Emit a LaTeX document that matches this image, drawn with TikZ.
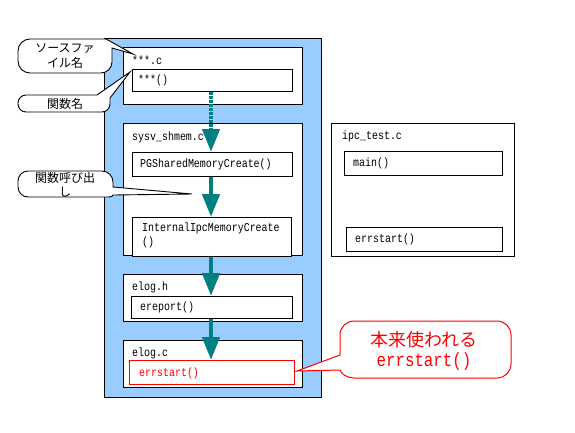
\documentclass[tikz,border=0pt]{standalone}
\usepackage{fontspec}
\setmainfont{Liberation Sans}
\newfontfamily\jp{Noto Sans CJK JP}
\newfontfamily\cod[FakeStretch=0.83]{Liberation Mono}
\usetikzlibrary{arrows.meta,calc}
\definecolor{bgblue}{RGB}{153,204,255}
\definecolor{flowteal}{RGB}{0,128,128}
\definecolor{callred}{RGB}{255,0,0}
\begin{document}
\begin{tikzpicture}[x=1pt,y=-1pt,
  box/.style={draw=black, line width=1pt, fill=white, anchor=north west, inner sep=0pt},
  code/.style={font=\cod\fontsize{12}{14}\selectfont, anchor=west, inner sep=0pt},
  flow/.style={draw=flowteal, line width=4.5pt, -{Triangle[width=17pt,length=23pt]}},
  bubble/.style={draw=black, line width=0.9pt, fill=white},
  jtext/.style={font=\jp\fontsize{12}{15}\selectfont, align=center, inner sep=0pt}]
\useasboundingbox (0,0) rectangle (575,432);

% blue background
\node[box, fill=bgblue, minimum width=217pt, minimum height=359pt] (bg) at (104,38) {};

% ***.c
\node[box, minimum width=179pt, minimum height=57pt] (fileA) at (123,47) {};
\node[box, minimum width=160pt, minimum height=22pt] (funcA) at (132,69) {};
\node[code] (fileAt) at (132,60) {***.c};
\node[code] (funcAt) at (138,80) {***()};

% sysv_shmem.c
\node[box, minimum width=179pt, minimum height=132pt] (fileB) at (123,123) {};
\node[code] (fileBt) at (132,137) {sysv\_shmem.c};
\node[box, minimum width=160pt, minimum height=24pt] (pg) at (132,152) {};
\node[code] (pgt) at (140,164) {PGSharedMemoryCreate()};
\node[box, minimum width=159pt, minimum height=39pt] (ipc) at (132,217) {};
\node[code, align=left, anchor=north west, font=\cod\fontsize{12}{14}\selectfont] (ipct) at (142,223) {InternalIpcMemoryCreate\\()};

% elog.h
\node[box, minimum width=179pt, minimum height=47pt] (fileC) at (123,274) {};
\node[code] (fileCt) at (132,287) {elog.h};
\node[box, minimum width=161pt, minimum height=22pt] (erep) at (131,296) {};
\node[code] (erept) at (140,307) {ereport()};

% elog.c
\node[box, minimum width=179pt, minimum height=47pt] (fileD) at (123,340) {};
\node[code] (fileDt) at (132,353) {elog.c};
\node[box, draw=callred, minimum width=165pt, minimum height=24pt] (errs) at (129,360) {};
\node[code, text=callred] (errst) at (139,373) {errstart()};

% ipc_test.c
\node[box, minimum width=183pt, minimum height=133pt] (fileE) at (331,123) {};
\node[code] (fileEt) at (342,136) {ipc\_test.c};
\node[box, minimum width=158pt, minimum height=24pt] (mainf) at (344,151) {};
\node[code] (maint) at (353,163) {main()};
\node[box, minimum width=156pt, minimum height=24pt] (errs2) at (346,227) {};
\node[code] (errs2t) at (355,239) {errstart()};

% flow arrows
\coordinate (ax) at (211,0);
\draw[flow, dash pattern=on 2.5pt off 1.5pt] (funcA.south -| ax) -- (pg.north -| ax);
\draw[flow] (pg.south -| ax) -- (ipc.north -| ax);
\draw[flow] (ipc.south -| ax) -- (erep.north -| ax);
\draw[flow] (erep.south -| ax) -- (errs.north -| ax);

% callouts
\draw[bubble] (30,39) -- (106,39) -- (133,54) -- (112,48) -- (112,62)
  .. controls +(0,6) and +(6,0) .. (101,73)
  -- (30,73) .. controls +(-6.6,0) and +(0,6.6) .. (18,61)
  -- (18,51) .. controls +(0,-6.6) and +(-6.6,0) .. (30,39) -- cycle;
\node[jtext] (c1t) at (65,56.5) {ソースファ\\イル名};

\draw[bubble] (26,95) -- (97,95) -- (130,72) -- (110,98) -- (110,104)
  .. controls +(0,4.4) and +(4.4,0) .. (102,112)
  -- (26,112) .. controls +(-4.4,0) and +(0,4.4) .. (18,104)
  -- (18,103) .. controls +(0,-4.4) and +(-4.4,0) .. (26,95) -- cycle;
\node[jtext] (c2t) at (65,103.5) {関数名};

\draw[bubble] (28,171) -- (102,171) .. controls +(6,0) and +(0,-6) .. (113,182)
  -- (113,187) -- (192,194) -- (113,195)
  .. controls +(0,1.1) and +(2.2,0) .. (109,197)
  -- (28,197) .. controls +(-5.5,0) and +(0,5.5) .. (18,187)
  -- (18,181) .. controls +(0,-5.5) and +(-5.5,0) .. (28,171) -- cycle;
\node[jtext, font=\jp\fontsize{12}{14}\selectfont] (c3t) at (65,185) {関数呼び出\\し};

\draw[bubble, draw=callred, line width=1pt] (354,321) -- (497,321)
  .. controls +(7.7,0) and +(0,-7.7) .. (511,335) -- (511,364)
  .. controls +(0,7.7) and +(7.7,0) .. (497,378) -- (354,378)
  .. controls +(-6.6,0) and +(1,4) .. (340,370) -- (297,371) -- (340,355)
  -- (340,335) .. controls +(0,-7.7) and +(-7.7,0) .. (354,321) -- cycle;
\node[jtext, text=callred, font=\jp\fontsize{18}{20}\selectfont] (c4a) at (424,340) {本来使われる};
\node[inner sep=0pt, text=callred, font=\cod\fontsize{19}{20}\selectfont] (c4b) at (424,362) {errstart()};
\end{tikzpicture}
\end{document}
